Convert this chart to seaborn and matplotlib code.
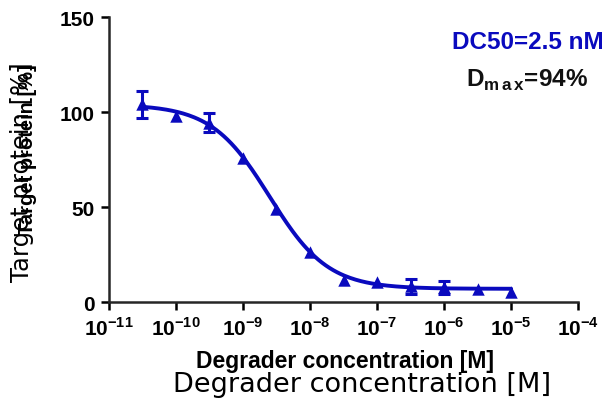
import numpy as np
import pandas as pd
import matplotlib
matplotlib.use("Agg")
import matplotlib.pyplot as plt
import seaborn as sns

# measured points (log10 of concentration in M) and % target protein left
log_conc = [-10.5, -10.0, -9.5, -9.0, -8.5, -8.0, -7.5, -7.0, -6.5, -6.0, -5.5, -5.0]
protein = [104, 98, 94.5, 76, 49, 26.5, 11.5, 10.5, 8.3, 7.7, 7.0, 5.5]
protein_sd = [7, 0, 5, 0, 0, 0, 0, 0, 4, 3.5, 0, 0]

# fitted 4-parameter dose-response curve
fit_top = 104
fit_bottom = 7
fit_dc50 = 2.5e-9
fit_hill = 1.0

x_ticks = [-11, -10, -9, -8, -7, -6, -5, -4]
y_ticks = [0, 50, 100, 150]

blue = "#0A0ABE"

sns.set_style("ticks")
plt.rcParams["mathtext.fontset"] = "custom"
plt.rcParams["mathtext.rm"] = "Liberation Sans:bold"
plt.rcParams["mathtext.bf"] = "Liberation Sans:bold"
plt.rcParams["axes.linewidth"] = 1.8
plt.rcParams["text.color"] = "black"

fig = plt.figure(figsize=(6.08, 4.02), dpi=100)
ax = fig.add_axes([0.179, 0.246, 0.772, 0.709])

# curve
xs = np.linspace(-10.5, -5.0, 200)
ys = fit_bottom + (fit_top - fit_bottom) / (1 + (10**xs / fit_dc50) ** fit_hill)
curve = pd.DataFrame({"x": xs, "y": ys})
sns.lineplot(data=curve, x="x", y="y", color=blue, lw=2.8, ax=ax)

# points + error bars (only where an SD was shown)
pts = pd.DataFrame({"x": log_conc, "y": protein, "sd": protein_sd})
err = pts[pts["sd"] > 0]
ax.errorbar(err["x"], err["y"], yerr=err["sd"], fmt="none", ecolor=blue,
            elinewidth=2.2, capsize=4.5, capthick=2.2, zorder=3)
sns.scatterplot(data=pts, x="x", y="y", marker="^", s=80, color=blue,
                edgecolor=blue, linewidth=0, ax=ax, zorder=4)

ax.set_xlim(-11, -4)
ax.set_ylim(0, 150)
ax.set_xticks(x_ticks)
ax.set_xticklabels([r"$10^{%d}$" % t for t in x_ticks])
ax.set_yticks(y_ticks)
ax.set_yticklabels([str(t) for t in y_ticks])
for lab in ax.get_xticklabels() + ax.get_yticklabels():
    lab.set_fontsize(15)
    lab.set_fontfamily("Liberation Sans")
    lab.set_fontweight("bold")
    lab.set_color("black")
ax.tick_params(length=6, width=1.8, colors="black", pad=4)
sns.despine(ax=ax)
ax.set_xlabel("")
ax.set_ylabel("")

# axis titles (bold and plain copies overlap, as in the original)
fig.text(0.568, 0.100, "Degrader concentration [M]", ha="center", va="center",
         fontsize=16.5, fontweight="bold", family="Liberation Sans")
fig.text(0.595, 0.043, "Degrader concentration [M]", ha="center", va="center",
         fontsize=19.5, family="DejaVu Sans")
fig.text(0.036, 0.573, "Target protein [%]", ha="center", va="center",
         rotation=90, fontsize=17.5, family="DejaVu Sans")
fig.text(0.046, 0.627, "Target protein [%]", ha="center", va="center",
         rotation=90, fontsize=14.5, fontweight="bold", family="Liberation Sans")

# annotations
fig.text(0.993, 0.895, "DC50=2.5 nM", ha="right", va="center", color=blue,
         fontsize=17.5, fontweight="bold", family="Liberation Sans")
fig.text(0.967, 0.80, r"D$_{\mathrm{m\,a\,x}}$=94%", ha="right", va="center",
         color="#111111", fontsize=17.5, fontweight="bold", family="Liberation Sans")

fig.savefig("out.png", dpi=100)
